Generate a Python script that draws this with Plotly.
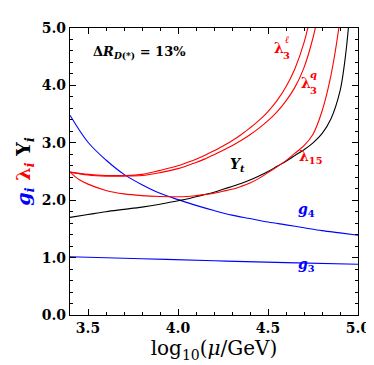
import plotly.graph_objects as go

# x = log10(mu/GeV)
g3_x = [3.4, 3.8, 4.2, 4.6, 5.0]
g3_y = [1.015, 0.98, 0.945, 0.912, 0.885]

g4_x = [3.4, 3.5, 3.6, 3.7, 3.8, 3.9, 4.0, 4.1, 4.2, 4.3, 4.4, 4.5, 4.6, 4.7, 4.8, 4.9, 5.0]
g4_y = [3.48, 3.01, 2.70, 2.45, 2.27, 2.12, 2.01, 1.91, 1.82, 1.74, 1.68, 1.62, 1.57, 1.52, 1.47, 1.43, 1.39]

yt_x = [3.4, 3.5, 3.6, 3.7, 3.8, 3.9, 4.0, 4.05, 4.1, 4.15, 4.2, 4.25, 4.3, 4.35, 4.4, 4.45, 4.5,
        4.55, 4.6, 4.65, 4.7, 4.75, 4.8, 4.85, 4.9, 4.925, 4.95, 4.975]
yt_y = [1.70, 1.75, 1.80, 1.84, 1.88, 1.93, 1.99, 2.02, 2.06, 2.10, 2.14, 2.19, 2.24, 2.29, 2.35, 2.42, 2.50,
        2.59, 2.68, 2.78, 2.88, 3.00, 3.16, 3.42, 3.90, 4.38, 5.12, 6.3]

l15_x = [3.4, 3.45, 3.5, 3.6, 3.7, 3.8, 3.9, 4.0, 4.05, 4.1, 4.15, 4.2, 4.25, 4.3, 4.35, 4.4, 4.45, 4.5,
         4.55, 4.6, 4.65, 4.7, 4.75, 4.8, 4.85, 4.9, 4.95]
l15_y = [2.49, 2.36, 2.28, 2.17, 2.11, 2.08, 2.065, 2.06, 2.065, 2.08, 2.10, 2.12, 2.155, 2.19, 2.24, 2.30, 2.38, 2.48,
         2.58, 2.69, 2.82, 2.95, 3.15, 3.55, 4.18, 5.15, 6.6]

l3l_x = [3.4, 3.5, 3.6, 3.7, 3.8, 3.9, 4.0, 4.05, 4.1, 4.15, 4.2, 4.25, 4.3, 4.35, 4.4, 4.45, 4.5,
         4.55, 4.6, 4.65, 4.7, 4.75]
l3l_y = [2.49, 2.45, 2.43, 2.43, 2.45, 2.52, 2.60, 2.655, 2.715, 2.785, 2.86, 2.945, 3.035, 3.14, 3.26, 3.39, 3.545,
         3.735, 3.975, 4.295, 4.745, 5.4]

l3q_x = [3.4, 3.5, 3.6, 3.7, 3.8, 3.9, 4.0, 4.05, 4.1, 4.15, 4.2, 4.25, 4.3, 4.35, 4.4, 4.45, 4.5,
         4.55, 4.6, 4.65, 4.7, 4.75, 4.8]
l3q_y = [2.49, 2.44, 2.42, 2.42, 2.43, 2.48, 2.55, 2.60, 2.655, 2.72, 2.79, 2.87, 2.95, 3.04, 3.14, 3.255, 3.385,
         3.54, 3.73, 3.97, 4.31, 4.83, 5.55]

x_ticks = [3.5, 4.0, 4.5, 5.0]
y_ticks = [0.0, 1.0, 2.0, 3.0, 4.0, 5.0]

RED = "#ff0000"
BLUE = "#0000ff"
SERIF = "DejaVu Serif"

fig = go.Figure()

def add(x, y, color):
    fig.add_trace(go.Scatter(x=x, y=y, mode="lines",
                             line=dict(color=color, width=1.1, shape="spline", smoothing=1.0),
                             showlegend=False, hoverinfo="skip"))

add(g3_x, g3_y, BLUE)
add(g4_x, g4_y, BLUE)
add(yt_x, yt_y, "black")
add(l15_x, l15_y, RED)
add(l3l_x, l3l_y, RED)
add(l3q_x, l3q_y, RED)

ann = []
def lab(x, y, text, color, size=14, xanchor="center"):
    ann.append(dict(x=x, y=y, xref="x", yref="y", text=text, showarrow=False,
                    font=dict(family=SERIF, size=size, color=color, weight="bold"),
                    xanchor=xanchor, yanchor="middle"))

lab(3.515, 4.58, "Δ<i>R</i><sub><i>D</i>(*)</sub> = 13%", "black", 13, "left")
# lambda_3^l
lab(4.56, 4.66, "λ", RED, 14)
lab(4.605, 4.80, "<i>ℓ</i>", RED, 10)
lab(4.605, 4.52, "3", RED, 10)
# lambda_3^q
lab(4.71, 4.05, "λ", RED, 14)
lab(4.755, 4.19, "<i>q</i>", RED, 10)
lab(4.755, 3.91, "3", RED, 10)
lab(4.74, 2.76, "λ<sub>15</sub>", RED, 14)
lab(4.33, 2.62, "<i>Y</i><sub><i>t</i></sub>", "black", 14)
lab(4.715, 1.83, "<i>g</i><sub>4</sub>", BLUE, 14)
lab(4.715, 0.87, "<i>g</i><sub>3</sub>", BLUE, 14)

axis_common = dict(showline=True, linecolor="black", linewidth=1.2, mirror="allticks",
                   ticks="inside", ticklen=6, tickcolor="black", tickwidth=1,
                   showgrid=False, zeroline=False,
                   tickfont=dict(family=SERIF, size=14, color="black", weight="bold"))

fig.update_layout(
    width=374, height=365,
    margin=dict(l=62, r=24, t=18, b=58),
    paper_bgcolor="white", plot_bgcolor="white",
    annotations=ann,
    xaxis=dict(range=[3.4, 5.0], tickvals=x_ticks, ticktext=[f"{v:.1f}" for v in x_ticks],
               minor=dict(ticks="inside", dtick=0.1, tick0=3.4, ticklen=3, tickcolor="black"),
               title=dict(text="log<sub>10</sub>(<i>μ</i>/GeV)", font=dict(family=SERIF, size=20, color="black"), standoff=6),
               **axis_common),
    yaxis=dict(range=[0, 5.0], tickvals=y_ticks, ticktext=[f"{v:.1f}" for v in y_ticks],
               minor=dict(ticks="inside", dtick=0.2, ticklen=3, tickcolor="black"),
               title=dict(text='<span style="color:#0000ff"><i>g<sub>i</sub></i></span> '
                               '<span style="color:#ff0000">λ<sub><i>i</i></sub></span> '
                               '<span style="color:black">Y<sub><i>i</i></sub></span>',
                          font=dict(family=SERIF, size=19, color="black", weight="bold"), standoff=6),
               **axis_common),
)

fig.write_html("out.html")
